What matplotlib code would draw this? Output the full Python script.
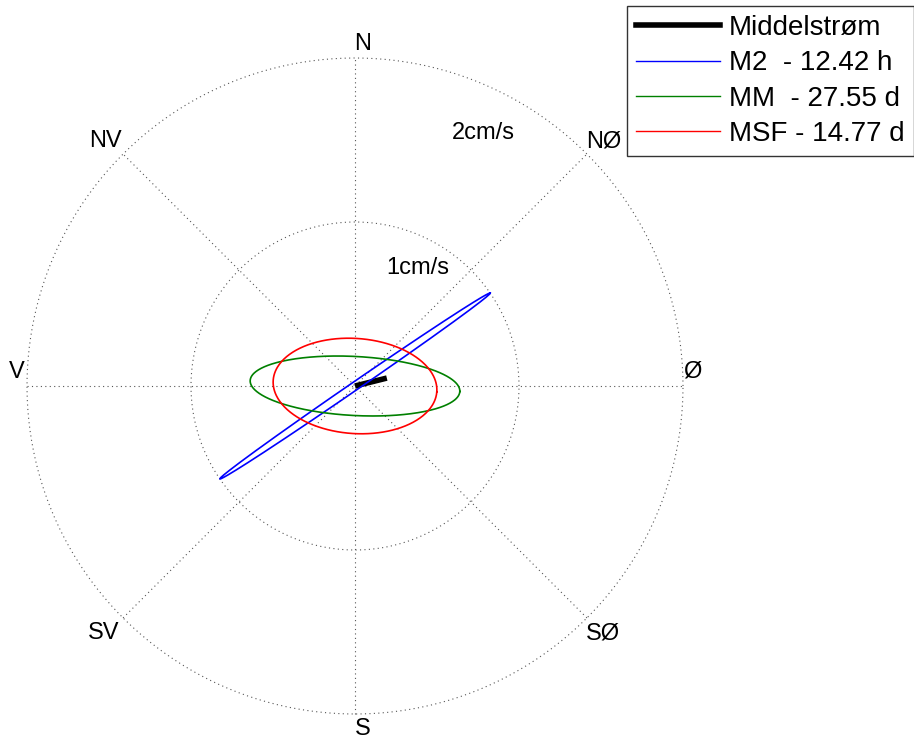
import numpy as np
import matplotlib
matplotlib.use("Agg")
import matplotlib.pyplot as plt
from matplotlib.lines import Line2D

plt.rcParams['font.family'] = ['Liberation Sans', 'DejaVu Sans']

# tidal constituents: semi-major, semi-minor (cm/s), inclination (deg from east)
names = ["M2  - 12.42 h", "MM  - 27.55 d", "MSF - 14.77 d"]
semi_major = [1.00, 0.64, 0.50]
semi_minor = [0.025, 0.18, 0.29]
inclination = [34.5, -3.0, -4.0]
colors = ["blue", "green", "red"]

# mean current
mean_speed = 0.20
mean_dir = 14.0

# compass labels
directions = ["Ø", "NØ", "N", "NV", "V", "SV", "S", "SØ"]
rings = [1, 2]
ring_labels = ["1cm/s", "2cm/s"]

W, H = 914, 740
cx, cy, scale = 355, 386, 164.0


def px(x, y):
    # pixel position -> data units
    return (x - cx) / scale, (cy - y) / scale


fig = plt.figure(figsize=(W / 100, H / 100), dpi=100)
ax = fig.add_axes([0, 0, 1, 1])
ax.set_xlim(-cx / scale, (W - cx) / scale)
ax.set_ylim(-(H - cy) / scale, cy / scale)
ax.axis("off")

# grid
t = np.linspace(0, 2 * np.pi, 400)
for r in rings:
    ax.plot(r * np.cos(t), r * np.sin(t), ls=(0, (1, 3)), color="#555555", lw=0.8)
for k in range(4):
    a = np.deg2rad(45 * k)
    R = rings[-1]
    ax.plot([-R * np.cos(a), R * np.cos(a)], [-R * np.sin(a), R * np.sin(a)],
            ls=(0, (1, 3)), color="#555555", lw=0.8)

label_px = [(692, 372), (604, 141), (363, 44), (105, 141),
            (17, 372), (104, 633), (363, 729), (603, 633)]
for lab, (x, y) in zip(directions, label_px):
    ax.text(*px(x, y), lab, fontsize=17, ha="center", va="center")

ring_px = [(418, 268), (483, 133)]
for lab, (x, y) in zip(ring_labels, ring_px):
    ax.text(*px(x, y), lab, fontsize=17, ha="center", va="center")

# ellipses
d = np.deg2rad(mean_dir)
ax.plot([0, mean_speed * np.cos(d)], [0, mean_speed * np.sin(d)],
        color="black", lw=4, solid_capstyle="butt")
for name, A, B, inc, c in zip(names, semi_major, semi_minor, inclination, colors):
    th = np.deg2rad(inc)
    ex = A * np.cos(t)
    ey = B * np.sin(t)
    x = ex * np.cos(th) - ey * np.sin(th)
    y = ex * np.sin(th) + ey * np.cos(th)
    ax.plot(x, y, color=c, lw=1.2)

leg_handles = [Line2D([], [], color="black", lw=4)] + \
    [Line2D([], [], color=c, lw=1) for c in colors]
leg = fig.legend(leg_handles, ["Middelstrøm"] + names, loc="upper left",
                 bbox_to_anchor=(627 / W, 1 - 6 / H), fontsize=20, frameon=True,
                 fancybox=False, edgecolor="black", handlelength=3.0,
                 labelspacing=0.33, borderpad=0.33, handletextpad=0.35,
                 borderaxespad=0)
leg.get_frame().set_linewidth(1.0)

fig.savefig("out.png", dpi=100)
